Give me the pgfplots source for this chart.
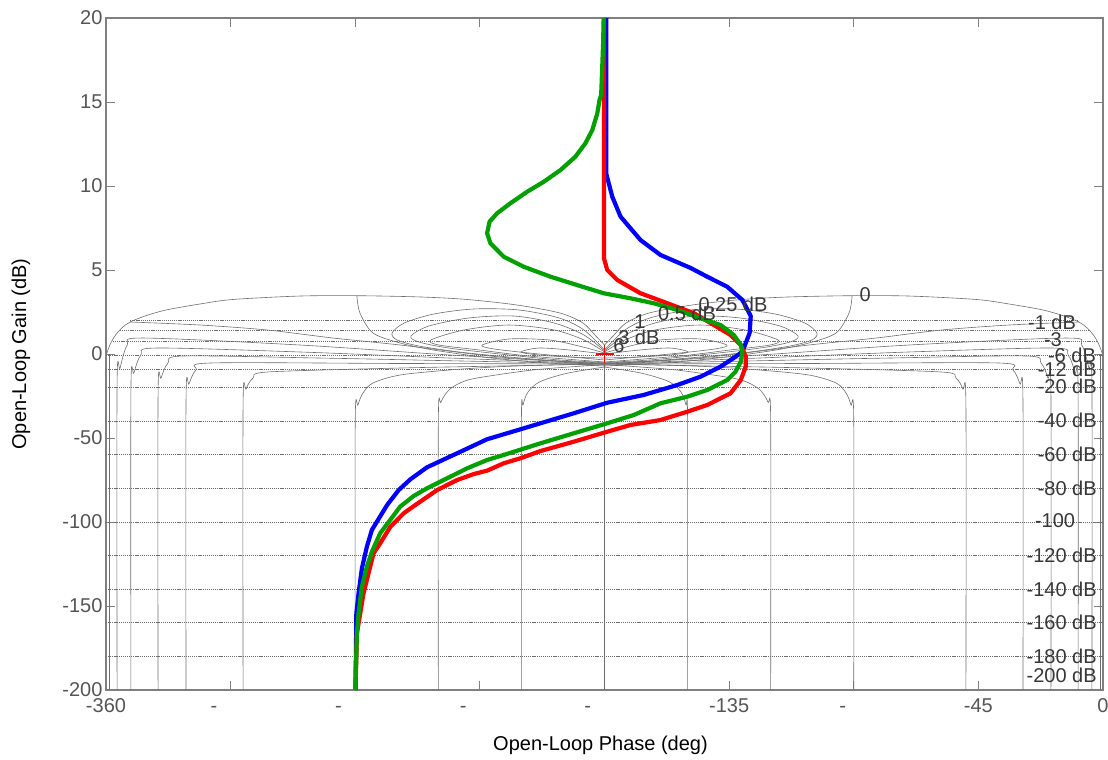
\documentclass[border=0pt]{standalone}
\usepackage{pgfplots}
\pgfplotsset{compat=1.18}
\usepackage{fontspec}
\setmainfont{Liberation Sans}
\definecolor{cblue}{RGB}{0,0,255}
\definecolor{cred}{RGB}{255,0,0}
\definecolor{cgreen}{RGB}{0,160,0}
\definecolor{gridc}{RGB}{110,110,110}
\definecolor{tickc}{RGB}{85,85,85}
\definecolor{labc}{RGB}{55,55,55}
\tikzset{
  hgrid/.style={draw=gridc, line width=0.75pt, dash pattern=on 1.2pt off 0.9pt},
  cgrid/.style={draw=gridc, line width=0.6pt, smooth},
  vgrid/.style={draw=gridc, line width=0.6pt},
  clab/.style={font=\fontsize{20}{24}\selectfont, text=labc, inner sep=0pt},
}
\begin{document}
\begin{tikzpicture}
\useasboundingbox (-106pt,-70pt) rectangle (1002pt,690pt);
\begin{axis}[
  scale only axis, width=997pt, height=672pt,
  xmin=-360, xmax=0, ymin=-4, ymax=4,
  axis line style={draw=gray, line width=1.2pt},
  tick style={draw=gray, line width=0.8pt},
  tick align=inside, major tick length=9pt,
  tick pos=both, xticklabel pos=lower, yticklabel pos=left,
  xtick={-360,-315,-270,-225,-180,-135,-90,-45,0},
  xticklabels={-360,-\phantom{315},-\phantom{270},-\phantom{225},-\phantom{180},-135,-\phantom{90},-45,0},
  ytick={-4,-3,-2,-1,0,1,2,3,4},
  yticklabels={-200,-150,-100,-50,0,5,10,15,20},
  ticklabel style={font=\fontsize{20}{24}\selectfont, text=tickc},
  xticklabel style={yshift=-5pt},
  /pgf/number format/assume math mode=true,
  xlabel={Open-Loop Phase (deg)}, ylabel={Open-Loop Gain (dB)},
  label style={font=\fontsize{20}{24}\selectfont},
  xlabel style={at={(axis description cs:0.496,-0.082)}, anchor=center},
  ylabel style={at={(axis description cs:-0.0853,0.5)}, anchor=center},
  clip=false,
]
% ---- horizontal grid levels
\addplot[hgrid] coordinates {(-351.3,0.405) (-9.0,0.405)};
\addplot[hgrid] coordinates {(-355.0,0.286) (-5.4,0.286)};
\addplot[hgrid] coordinates {(-357.5,0.155) (-2.5,0.155)};
\addplot[hgrid] coordinates {(-360,-0.012) (0,-0.012)};
\addplot[hgrid] coordinates {(-360,-0.179) (0,-0.179)};
\addplot[hgrid] coordinates {(-360,-0.393) (0,-0.393)};
\addplot[hgrid] coordinates {(-360,-0.8) (0,-0.8)};
\addplot[hgrid] coordinates {(-360,-1.2) (0,-1.2)};
\addplot[hgrid] coordinates {(-360,-1.6) (0,-1.6)};
\addplot[hgrid] coordinates {(-360,-2.0) (0,-2.0)};
\addplot[hgrid] coordinates {(-360,-2.4) (0,-2.4)};
\addplot[hgrid] coordinates {(-360,-2.8) (0,-2.8)};
\addplot[hgrid] coordinates {(-360,-3.2) (0,-3.2)};
\addplot[hgrid] coordinates {(-360,-3.6) (0,-3.6)};
% ---- outer dome
\addplot[cgrid] coordinates {(-359.8,0) (-358.6,0.107) (-356.8,0.214) (-354.3,0.310) (-351.3,0.381) (-345.9,0.452) (-338.3,0.524) (-326.1,0.595) (-314.2,0.649) (-290.0,0.690) (-269.4,0.694) (-246.6,0.679) (-229.6,0.649) (-211.6,0.583) (-196.1,0.488) (-187.8,0.369) (-183.1,0.214) (-180,0.107)};
\addplot[cgrid] coordinates {(-180,0.107) (-176.9,0.214) (-172.2,0.369) (-163.9,0.488) (-148.4,0.583) (-130.4,0.649) (-113.4,0.679) (-90.6,0.694) (-70.0,0.690) (-45.8,0.649) (-33.9,0.595) (-21.7,0.524) (-14.1,0.452) (-8.7,0.381) (-5.7,0.310) (-3.2,0.214) (-1.4,0.107) (-0.2,0)};
% ---- closed-loop gain lobes
\addplot[cgrid] coordinates {(-180,0.048) (-172.6,0.286) (-163.6,0.429) (-149.1,0.524) (-132.9,0.536) (-118.4,0.476) (-107.7,0.369) (-103.3,0.25) (-105.1,0.167) (-113.0,0.095) (-127.5,0.024) (-145.5,-0.036) (-163.6,-0.083) (-180,-0.107)};
\addplot[cgrid] coordinates {(-180,0.048) (-187.4,0.286) (-196.4,0.429) (-210.9,0.524) (-227.1,0.536) (-241.6,0.476) (-252.3,0.369) (-256.7,0.25) (-254.9,0.167) (-247.0,0.095) (-232.5,0.024) (-214.5,-0.036) (-196.4,-0.083) (-180,-0.107)};
\addplot[cgrid] coordinates {(-180,0.036) (-172.6,0.226) (-161.8,0.369) (-147.3,0.452) (-131.1,0.429) (-116.6,0.333) (-110.1,0.214) (-113.0,0.143) (-123.8,0.071) (-145.5,-0.012) (-163.6,-0.071) (-180,-0.101)};
\addplot[cgrid] coordinates {(-180,0.036) (-187.4,0.226) (-198.2,0.369) (-212.7,0.452) (-228.9,0.429) (-243.4,0.333) (-249.9,0.214) (-247.0,0.143) (-236.2,0.071) (-214.5,-0.012) (-196.4,-0.071) (-180,-0.101)};
\addplot[cgrid] coordinates {(-180,0.024) (-172.6,0.167) (-161.8,0.286) (-145.5,0.345) (-129.3,0.286) (-117.3,0.167) (-120.2,0.107) (-134.7,0.048) (-152.7,-0.024) (-180,-0.095)};
\addplot[cgrid] coordinates {(-180,0.024) (-187.4,0.167) (-198.2,0.286) (-214.5,0.345) (-230.7,0.286) (-242.7,0.167) (-239.8,0.107) (-225.3,0.048) (-207.3,-0.024) (-180,-0.095)};
\addplot[cgrid] coordinates {(-180,0.012) (-170.8,0.095) (-160.0,0.167) (-145.5,0.179) (-135.8,0.107) (-140.1,0.060) (-156.3,0) (-180,-0.071)};
\addplot[cgrid] coordinates {(-180,0.012) (-189.2,0.095) (-200.0,0.167) (-214.5,0.179) (-224.2,0.107) (-219.9,0.060) (-203.7,0) (-180,-0.071)};
\addplot[cgrid] coordinates {(-180,0) (-167.2,0.048) (-156.3,0.071) (-149.8,0.024) (-156.3,-0.012) (-167.2,-0.036) (-180,-0.048)};
\addplot[cgrid] coordinates {(-180,0) (-192.8,0.048) (-203.7,0.071) (-210.2,0.024) (-203.7,-0.012) (-192.8,-0.036) (-180,-0.048)};
% ---- closed-loop phase contours
\addplot[cgrid] coordinates {(-269.4,0.690) (-268.3,0.488) (-263.6,0.25) (-253.8,0.131) (-241.9,0.048) (-223.9,-0.036) (-205.8,-0.095) (-187.8,-0.131) (-180,-0.143)};
\addplot[cgrid] coordinates {(-180,-0.143) (-172.2,-0.131) (-154.2,-0.095) (-136.1,-0.036) (-118.1,0.048) (-106.2,0.131) (-96.4,0.25) (-91.7,0.488) (-90.6,0.690)};
\addplot[cgrid] coordinates {(-351.3,0.381) (-326.1,0.345) (-301.9,0.286) (-278.0,0.190) (-253.8,0.107) (-217.7,-0.036) (-180,-0.119)};
\addplot[cgrid] coordinates {(-180,-0.119) (-142.3,-0.036) (-106.2,0.107) (-82.0,0.190) (-58.1,0.286) (-33.9,0.345) (-8.7,0.381)};
\addplot[vgrid] coordinates {(-358.9,-4) (-358.9,0)};
\addplot[vgrid] coordinates {(-1.1,-4) (-1.1,0)};
\addplot[vgrid] coordinates {(-180,-4) (-180,0)};
\addplot[cgrid] coordinates {(-356.0,-4) (-356.0,-0.369) (-354.9,-0.167) (-352.3,0.107) (-346.8,0.190) (-290.0,0.107) (-235.8,-0.012) (-180,-0.119)};
\addplot[cgrid] coordinates {(-180,-0.119) (-124.2,-0.012) (-70.0,0.107) (-13.2,0.190) (-7.7,0.107) (-5.1,-0.167) (-4.0,-0.369) (-4.0,-4)};
\addplot[cgrid] coordinates {(-351.0,-4) (-351.0,-0.429) (-349.9,-0.226) (-347.4,-0.012) (-342.0,0.071) (-290.0,0.024) (-235.8,-0.048) (-180,-0.119)};
\addplot[cgrid] coordinates {(-180,-0.119) (-124.2,-0.048) (-70.0,0.024) (-18.0,0.071) (-12.6,-0.012) (-10.1,-0.226) (-9.0,-0.429) (-9.0,-4)};
\addplot[cgrid] coordinates {(-341.2,-4) (-341.2,-0.488) (-340.1,-0.286) (-337.6,-0.107) (-332.2,-0.024) (-282.7,-0.048) (-232.2,-0.083) (-180,-0.119)};
\addplot[cgrid] coordinates {(-180,-0.119) (-127.8,-0.083) (-77.3,-0.048) (-27.8,-0.024) (-22.4,-0.107) (-19.9,-0.286) (-18.8,-0.488) (-18.8,-4)};
\addplot[cgrid] coordinates {(-331.1,-4) (-331.1,-0.548) (-330.0,-0.357) (-327.5,-0.190) (-322.1,-0.107) (-253.8,-0.113) (-180,-0.119)};
\addplot[cgrid] coordinates {(-180,-0.119) (-106.2,-0.113) (-37.9,-0.107) (-32.5,-0.190) (-30.0,-0.357) (-28.9,-0.548) (-28.9,-4)};
\addplot[cgrid] coordinates {(-310.5,-4) (-310.5,-0.607) (-309.4,-0.417) (-306.9,-0.286) (-301.5,-0.214) (-253.8,-0.167) (-217.7,-0.143) (-180,-0.119)};
\addplot[cgrid] coordinates {(-180,-0.119) (-142.3,-0.143) (-106.2,-0.167) (-58.5,-0.214) (-53.1,-0.286) (-50.6,-0.417) (-49.5,-0.607) (-49.5,-4)};
\addplot[cgrid] coordinates {(-270,-4) (-270,-0.798) (-269.0,-0.607) (-267.2,-0.464) (-263.6,-0.345) (-253.8,-0.25) (-235.8,-0.190) (-217.7,-0.151) (-199.7,-0.131) (-180,-0.119)};
\addplot[cgrid] coordinates {(-180,-0.119) (-160.3,-0.131) (-142.3,-0.151) (-124.2,-0.190) (-106.2,-0.25) (-96.4,-0.345) (-92.8,-0.464) (-91.0,-0.607) (-90,-0.798) (-90,-4)};
\addplot[cgrid] coordinates {(-240,-4) (-240,-0.798) (-239.0,-0.571) (-235.8,-0.417) (-230.4,-0.321) (-223.9,-0.274) (-205.8,-0.190) (-187.8,-0.143) (-180,-0.131)};
\addplot[cgrid] coordinates {(-180,-0.131) (-172.2,-0.143) (-154.2,-0.190) (-136.1,-0.274) (-129.6,-0.321) (-124.2,-0.417) (-121.0,-0.571) (-120,-0.798) (-120,-4)};
\addplot[cgrid] coordinates {(-210,-4) (-210,-0.798) (-209.4,-0.607) (-207.6,-0.452) (-203.3,-0.330) (-193.6,-0.230) (-180,-0.155)};
\addplot[cgrid] coordinates {(-180,-0.155) (-166.4,-0.230) (-156.7,-0.330) (-152.4,-0.452) (-150.6,-0.607) (-150,-0.798) (-150,-4)};
% ---- response curves
\addplot[cblue, line width=4.2pt, line join=round] coordinates {(-179.4,4.0) (-179.4,2.151) (-177.2,1.873) (-174.2,1.635) (-167.0,1.357) (-159.8,1.179) (-148.9,1.024) (-142.9,0.920) (-135.7,0.801) (-130.2,0.643) (-127.2,0.452) (-127.6,0.25) (-130.2,0.027) (-133.4,-0.048) (-138.1,-0.151) (-145.3,-0.270) (-153.7,-0.369) (-165.9,-0.488) (-179.0,-0.580) (-191.1,-0.706) (-209.2,-0.885) (-222.4,-1.015) (-233.2,-1.182) (-244.1,-1.349) (-250.1,-1.492) (-254.3,-1.619) (-258.5,-1.798) (-264.0,-2.095) (-265.8,-2.294) (-267.6,-2.551) (-268.8,-2.849) (-269.6,-3.087) (-269.9,-4.0)};
\addplot[cred, line width=4.2pt, line join=round] coordinates {(-180.2,4.0) (-180.2,1.139) (-179.0,1.0) (-175.4,0.881) (-167.0,0.723) (-157.3,0.604) (-147.7,0.485) (-140.5,0.345) (-134.5,0.226) (-130.8,0.107) (-129.0,-0.032) (-129.0,-0.151) (-130.8,-0.310) (-134.5,-0.468) (-142.9,-0.607) (-150.1,-0.687) (-159.8,-0.786) (-170.6,-0.845) (-179.0,-0.925) (-191.1,-1.044) (-203.1,-1.155) (-210.4,-1.242) (-216.4,-1.301) (-222.4,-1.389) (-227.2,-1.429) (-233.2,-1.5) (-240.4,-1.619) (-248.3,-1.798) (-252.5,-1.896) (-257.3,-2.056) (-261.0,-2.254) (-263.4,-2.373) (-265.2,-2.611) (-267.0,-2.849) (-268.2,-3.087) (-269.4,-3.325) (-269.9,-4.0)};
\addplot[cgreen, line width=4.2pt, line join=round] coordinates {(-180.3,4.0) (-180.5,3.699) (-181.2,3.083) (-181.8,3.024) (-182.6,2.865) (-184.4,2.667) (-186.9,2.508) (-190.5,2.349) (-195.9,2.190) (-201.9,2.051) (-207.9,1.932) (-214.0,1.794) (-218.8,1.675) (-221.5,1.575) (-222.4,1.437) (-221.2,1.318) (-216.4,1.158) (-209.2,1.039) (-199.5,0.920) (-189.9,0.821) (-180.3,0.723) (-170.6,0.663) (-162.2,0.604) (-153.7,0.524) (-145.3,0.425) (-138.1,0.345) (-133.3,0.226) (-130.8,0.107) (-130.2,0.027) (-130.8,-0.092) (-132.7,-0.211) (-135.7,-0.310) (-142.9,-0.429) (-150.1,-0.508) (-159.8,-0.587) (-169.4,-0.726) (-179.0,-0.825) (-191.1,-0.944) (-203.1,-1.063) (-216.4,-1.202) (-222.4,-1.262) (-229.6,-1.361) (-239.3,-1.520) (-244.1,-1.599) (-248.9,-1.690) (-253.8,-1.818) (-257.4,-1.976) (-261.0,-2.135) (-264.0,-2.354) (-265.8,-2.532) (-267.6,-2.770) (-268.8,-3.087) (-269.4,-3.325) (-270.0,-4.0)};
% ---- critical point
\addplot[cred, only marks, mark=+, mark size=9pt, mark options={line width=1.2pt}] coordinates {(-180,0)};
% ---- contour labels
\node[clab] at (axis cs:-133.6,0.595) {0.25 dB};
\node[clab] at (axis cs:-150.2,0.488) {0.5 dB};
\node[clab] at (axis cs:-167.2,0.381) {1};
\node[clab] at (axis cs:-167.6,0.202) {3 dB};
\node[clab] at (axis cs:-174.8,0.095) {6};
\node[clab] at (axis cs:-85.9,0.702) {0};
\node[clab, anchor=east] at (axis cs:-9.7,0.381) {-1 dB};
\node[clab, anchor=east] at (axis cs:-14.8,0.167) {-3};
\node[clab, anchor=east] at (axis cs:-2.5,-0.012) {-6 dB};
\node[clab, anchor=east] at (axis cs:-2.2,-0.179) {-12 dB};
\node[clab, anchor=east] at (axis cs:-2.2,-0.381) {-20 dB};
\node[clab, anchor=east] at (axis cs:-2.2,-0.786) {-40 dB};
\node[clab, anchor=east] at (axis cs:-2.2,-1.190) {-60 dB};
\node[clab, anchor=east] at (axis cs:-2.2,-1.595) {-80 dB};
\node[clab, anchor=east] at (axis cs:-10.0,-1.988) {-100};
\node[clab, anchor=east] at (axis cs:-2.2,-2.393) {-120 dB};
\node[clab, anchor=east] at (axis cs:-2.2,-2.798) {-140 dB};
\node[clab, anchor=east] at (axis cs:-2.2,-3.190) {-160 dB};
\node[clab, anchor=east] at (axis cs:-2.2,-3.595) {-180 dB};
\node[clab, anchor=east] at (axis cs:-2.2,-3.821) {-200 dB};
\end{axis}
\end{tikzpicture}
\end{document}
